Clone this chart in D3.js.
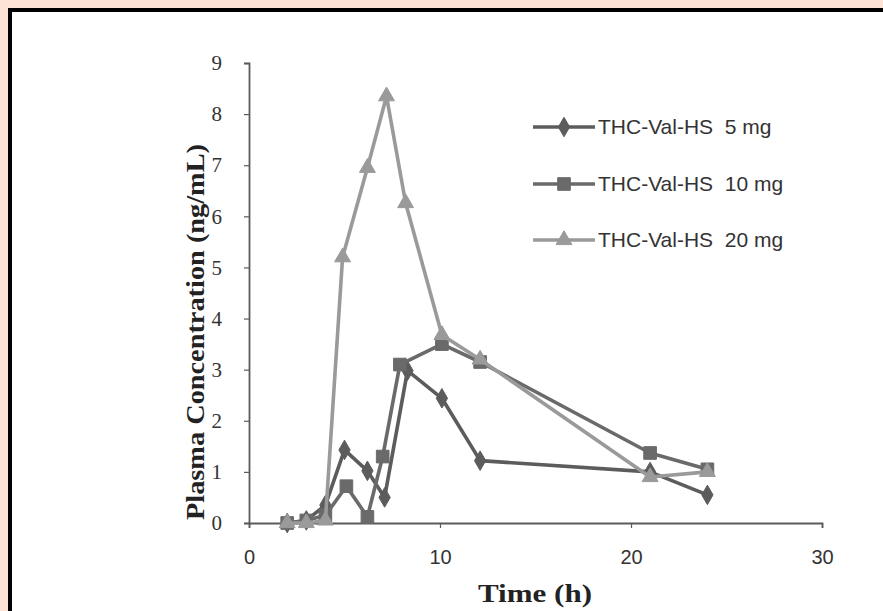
<!DOCTYPE html>
<html>
<head>
<meta charset="utf-8">
<script src="https://cdn.jsdelivr.net/npm/d3@7"></script>
<style>
  html, body { margin: 0; padding: 0; background: #fde3d5; }
  svg { display: block; }
</style>
</head>
<body>
<svg id="chart" width="883" height="611"></svg>
<script>
// ---- data ----
const seriesNames = ["THC-Val-HS  5 mg", "THC-Val-HS  10 mg", "THC-Val-HS  20 mg"];
const times5  = [2, 3, 4, 5, 6.2, 7.1, 8.3, 10.1, 12.1, 21, 24];
const conc5   = [0, 0.05, 0.35, 1.43, 1.02, 0.5, 2.98, 2.44, 1.22, 1.0, 0.55];
const times10 = [2, 3, 4, 5.1, 6.2, 7, 7.9, 10.1, 12.1, 21, 24];
const conc10  = [0, 0.05, 0.15, 0.72, 0.12, 1.3, 3.1, 3.5, 3.15, 1.37, 1.05];
const times20 = [2, 3, 4, 4.9, 6.2, 7.2, 8.2, 10.1, 12.1, 21, 24];
const conc20  = [0, 0, 0.05, 5.2, 6.95, 8.35, 6.26, 3.68, 3.2, 0.9, 1.0];
const xTicks = [0, 10, 20, 30];
const yTicks = [0, 1, 2, 3, 4, 5, 6, 7, 8, 9];
const xTitle = "Time (h)";
const yTitle = "Plasma Concentration (ng/mL)";

const series = [
  {name: seriesNames[0], t: times5,  v: conc5,  color: "#5c5c5c", marker: "diamond"},
  {name: seriesNames[1], t: times10, v: conc10, color: "#6a6a6a", marker: "square"},
  {name: seriesNames[2], t: times20, v: conc20, color: "#9a9a9a", marker: "triangle"}
];

const svg = d3.select("#chart");

// frame
svg.append("rect").attr("x", 8).attr("y", 8).attr("width", 900).attr("height", 620).attr("fill", "#000");
svg.append("rect").attr("x", 12).attr("y", 12).attr("width", 900).attr("height", 620).attr("fill", "#fff");

const x = d3.scaleLinear().domain([0, 30]).range([249, 822]);
const y = d3.scaleLinear().domain([0, 9]).range([523, 63]);

const axisColor = "#5a5a5a";

// y axis
const yAxis = svg.append("g").attr("transform", `translate(${x(0)},0)`)
  .call(d3.axisLeft(y).tickValues(yTicks).tickSize(5).tickPadding(22).tickFormat(d3.format("d")));
yAxis.select(".domain").attr("stroke", axisColor).attr("stroke-width", 1.8);
yAxis.selectAll(".tick line").attr("stroke", axisColor).attr("stroke-width", 1.2);
yAxis.selectAll(".tick text").attr("fill", "#333").attr("font-family", "Liberation Serif, serif").attr("font-size", 21);

// x axis
const xAxis = svg.append("g").attr("transform", `translate(0,${y(0)})`)
  .call(d3.axisBottom(x).tickValues(xTicks).tickSize(5).tickPadding(22).tickFormat(d3.format("d")));
xAxis.select(".domain").attr("stroke", axisColor).attr("stroke-width", 1.8);
xAxis.selectAll(".tick line").attr("stroke", axisColor).attr("stroke-width", 1.2);
xAxis.selectAll(".tick text").attr("fill", "#333").attr("font-family", "Liberation Sans, sans-serif").attr("font-size", 20);

// axis titles
svg.append("text")
  .attr("x", 535).attr("y", 602)
  .attr("text-anchor", "middle")
  .attr("font-family", "Liberation Serif, serif").attr("font-weight", "bold")
  .attr("font-size", 25).attr("fill", "#222")
  .attr("textLength", 114).attr("lengthAdjust", "spacingAndGlyphs")
  .text(xTitle);

svg.append("text")
  .attr("transform", "translate(204,332) rotate(-90)")
  .attr("text-anchor", "middle")
  .attr("font-family", "Liberation Serif, serif").attr("font-weight", "bold")
  .attr("font-size", 25).attr("fill", "#222")
  .attr("textLength", 376).attr("lengthAdjust", "spacingAndGlyphs")
  .text(yTitle);

// markers
const symbolType = {diamond: d3.symbolDiamond, square: d3.symbolSquare, triangle: d3.symbolTriangle};
const symbolSize = {diamond: 110, square: 160, triangle: 110};

const line = d3.line().x(d => x(d[0])).y(d => y(d[1]));

series.forEach(s => {
  const pts = s.t.map((t, i) => [t, s.v[i]]);
  const g = svg.append("g");
  g.append("path").datum(pts)
    .attr("d", line)
    .attr("fill", "none")
    .attr("stroke", s.color)
    .attr("stroke-width", 3.6)
    .attr("stroke-linejoin", "round");
  g.selectAll("path.m").data(pts).enter().append("path")
    .attr("class", "m")
    .attr("transform", d => `translate(${x(d[0])},${y(d[1])})`)
    .attr("d", d3.symbol().type(symbolType[s.marker]).size(symbolSize[s.marker]))
    .attr("fill", s.color)
    .attr("stroke", s.color)
    .attr("stroke-width", 1);
});

// legend
const legY = [127, 184, 240];
series.forEach((s, i) => {
  const g = svg.append("g").attr("transform", `translate(0,${legY[i]})`);
  g.append("line").attr("x1", 533).attr("x2", 595).attr("y1", 0).attr("y2", 0)
    .attr("stroke", s.color).attr("stroke-width", 3.6);
  g.append("path").attr("transform", "translate(564,0)")
    .attr("d", d3.symbol().type(symbolType[s.marker]).size(symbolSize[s.marker]))
    .attr("fill", s.color).attr("stroke", s.color);
  g.append("text").attr("x", 598).attr("y", 7)
    .attr("font-family", "Liberation Sans, sans-serif").attr("font-size", 21)
    .attr("fill", "#333")
    .style("white-space", "pre")
    .text(s.name);
});
</script>
</body>
</html>
